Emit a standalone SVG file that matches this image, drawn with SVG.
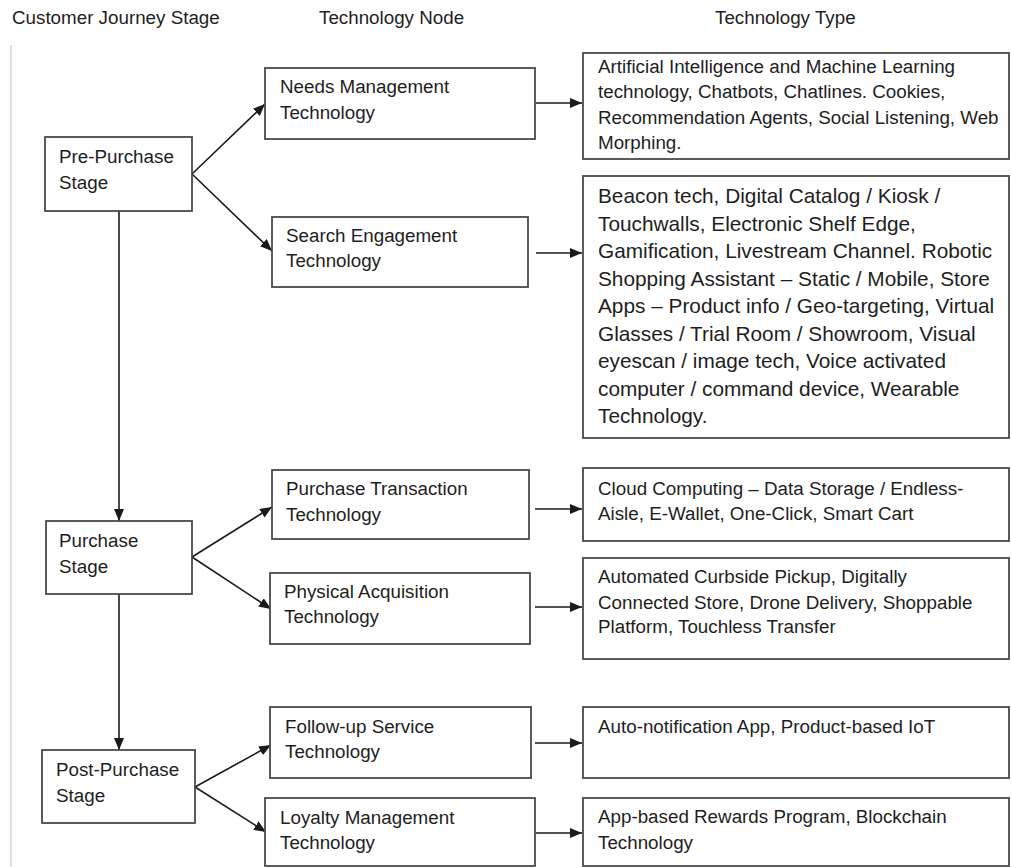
<svg xmlns="http://www.w3.org/2000/svg" width="1011" height="867" viewBox="0 0 1011 867">
<defs>
<style>
.bx{fill:#fff;stroke:#4a4a4a;stroke-width:1.8}
.t{font-family:"Liberation Sans",Arial,sans-serif;font-size:18.8px;fill:#1e1e1e}
.t2{font-family:"Liberation Sans",Arial,sans-serif;font-size:20.8px;fill:#1e1e1e}
.ln{stroke:#1a1a1a;stroke-width:1.6;fill:none;marker-end:url(#ah)}
</style>
<marker id="ah" markerUnits="userSpaceOnUse" markerWidth="12" markerHeight="10" refX="12" refY="5" orient="auto">
<path d="M0,0 L12,5 L0,10 z" fill="#1a1a1a"/>
</marker>
</defs>
<rect width="1011" height="867" fill="#fff"/>
<line x1="11" y1="45" x2="11" y2="867" stroke="#d6d6d6" stroke-width="1.5"/>
<g id="headers">
<text class="t" x="12" y="24">Customer Journey Stage</text>
<text class="t" x="319" y="24">Technology Node</text>
<text class="t" x="715" y="24">Technology Type</text>
</g>
<g id="connectors">
<line class="ln" x1="192" y1="174" x2="265" y2="104"/>
<line class="ln" x1="192" y1="174" x2="272" y2="251"/>
<line class="ln" x1="536" y1="103" x2="582" y2="103"/>
<line class="ln" x1="536" y1="253" x2="582" y2="253"/>
<line class="ln" x1="119" y1="211" x2="119" y2="521"/>
<line class="ln" x1="192" y1="557" x2="272" y2="507"/>
<line class="ln" x1="192" y1="557" x2="271" y2="609"/>
<line class="ln" x1="535" y1="509" x2="582" y2="509"/>
<line class="ln" x1="535" y1="607" x2="582" y2="607"/>
<line class="ln" x1="119" y1="594" x2="119" y2="750"/>
<line class="ln" x1="195" y1="787" x2="271" y2="745"/>
<line class="ln" x1="195" y1="787" x2="266" y2="832"/>
<line class="ln" x1="535" y1="743" x2="582" y2="743"/>
<line class="ln" x1="536" y1="833" x2="582" y2="833"/>
</g>
<g id="pre-purchase">
<rect class="bx" x="45" y="137" width="147" height="74"/>
<text class="t" x="59" y="163">Pre-Purchase</text>
<text class="t" x="59" y="189">Stage</text>
</g>
<g id="purchase">
<rect class="bx" x="46" y="521" width="146" height="73"/>
<text class="t" x="59" y="547">Purchase</text>
<text class="t" x="59" y="573">Stage</text>
</g>
<g id="post-purchase">
<rect class="bx" x="42" y="750" width="153" height="73"/>
<text class="t" x="56" y="776">Post-Purchase</text>
<text class="t" x="56" y="802">Stage</text>
</g>
<g id="needs-management">
<rect class="bx" x="265" y="68" width="270" height="71"/>
<text class="t" x="280" y="93">Needs Management</text>
<text class="t" x="280" y="119">Technology</text>
</g>
<g id="search-engagement">
<rect class="bx" x="272" y="217" width="256" height="70"/>
<text class="t" x="286" y="242">Search Engagement</text>
<text class="t" x="286" y="267">Technology</text>
</g>
<g id="purchase-transaction">
<rect class="bx" x="272" y="470" width="257" height="69"/>
<text class="t" x="286" y="495">Purchase Transaction</text>
<text class="t" x="286" y="521">Technology</text>
</g>
<g id="physical-acquisition">
<rect class="bx" x="270" y="573" width="260" height="71"/>
<text class="t" x="284" y="598">Physical Acquisition</text>
<text class="t" x="284" y="623">Technology</text>
</g>
<g id="follow-up-service">
<rect class="bx" x="270" y="707" width="261" height="71"/>
<text class="t" x="285" y="733">Follow-up Service</text>
<text class="t" x="285" y="758">Technology</text>
</g>
<g id="loyalty-management">
<rect class="bx" x="265" y="798" width="270" height="68"/>
<text class="t" x="280" y="824">Loyalty Management</text>
<text class="t" x="280" y="849">Technology</text>
</g>
<g id="type-needs">
<rect class="bx" x="583" y="53" width="426" height="106"/>
<text class="t" x="598" y="72.5">Artificial Intelligence and Machine Learning</text>
<text class="t" x="598" y="98">technology, Chatbots, Chatlines. Cookies,</text>
<text class="t" x="598" y="123.5">Recommendation Agents, Social Listening, Web</text>
<text class="t" x="598" y="149">Morphing.</text>
</g>
<g id="type-search">
<rect class="bx" x="583" y="176" width="426" height="262"/>
<text class="t2" x="598" y="203">Beacon tech, Digital Catalog / Kiosk /</text>
<text class="t2" x="598" y="230.5">Touchwalls, Electronic Shelf Edge,</text>
<text class="t2" x="598" y="258">Gamification, Livestream Channel. Robotic</text>
<text class="t2" x="598" y="285.5">Shopping Assistant – Static / Mobile, Store</text>
<text class="t2" x="598" y="313">Apps – Product info / Geo-targeting, Virtual</text>
<text class="t2" x="598" y="340.5">Glasses / Trial Room / Showroom, Visual</text>
<text class="t2" x="598" y="368">eyescan / image tech, Voice activated</text>
<text class="t2" x="598" y="395.5">computer / command device, Wearable</text>
<text class="t2" x="598" y="423">Technology.</text>
</g>
<g id="type-purchase-transaction">
<rect class="bx" x="583" y="468" width="426" height="73"/>
<text class="t" x="598" y="495">Cloud Computing – Data Storage / Endless-</text>
<text class="t" x="598" y="520">Aisle, E-Wallet, One-Click, Smart Cart</text>
</g>
<g id="type-physical-acquisition">
<rect class="bx" x="583" y="558" width="426" height="101"/>
<text class="t" x="598" y="583">Automated Curbside Pickup, Digitally</text>
<text class="t" x="598" y="609">Connected Store, Drone Delivery, Shoppable</text>
<text class="t" x="598" y="633">Platform, Touchless Transfer</text>
</g>
<g id="type-follow-up">
<rect class="bx" x="583" y="707" width="426" height="71"/>
<text class="t" x="598" y="733">Auto-notification App, Product-based IoT</text>
</g>
<g id="type-loyalty">
<rect class="bx" x="583" y="798" width="426" height="68"/>
<text class="t" x="598" y="823">App-based Rewards Program, Blockchain</text>
<text class="t" x="598" y="849">Technology</text>
</g>
</svg>
